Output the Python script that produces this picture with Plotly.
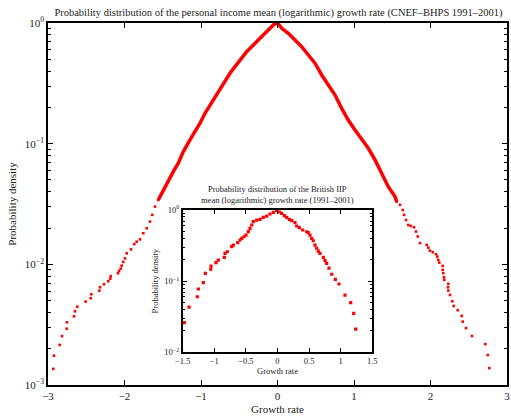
import plotly.graph_objects as go

_RED = "#FF0000"
_FONT = "Liberation Serif, Times New Roman, serif"

core_x = [-1.558, -1.493, -1.427, -1.362, -1.297, -1.231, -1.144, -1.078, -1.013,
          -0.948, -0.882, -0.817, -0.752, -0.686, -0.621, -0.556, -0.490, -0.403,
          -0.316, -0.229, -0.141, -0.055, 0.0, 0.055, 0.141, 0.229, 0.316, 0.403,
          0.490, 0.578, 0.664, 0.752, 0.839, 0.925, 1.013, 1.101, 1.187, 1.275,
          1.362, 1.448, 1.536, 1.558]
core_y = [0.0342, 0.0413, 0.0500, 0.0586, 0.0689, 0.0859, 0.1074, 0.1257, 0.1476,
          0.1786, 0.2094, 0.2451, 0.2786, 0.3266, 0.3831, 0.4346, 0.4935, 0.578,
          0.657, 0.747, 0.847, 0.962, 1.0, 0.904, 0.822, 0.723, 0.636, 0.543,
          0.464, 0.371, 0.306, 0.253, 0.196, 0.157, 0.130, 0.1074, 0.0916, 0.0733,
          0.0569, 0.0440, 0.0364, 0.0331]

# main panel: sparse tails
tail_x = [-2.931, -2.922, -2.847, -2.817, -2.756, -2.752, -2.660, -2.647, -2.617,
          -2.507, -2.442, -2.434, -2.329, -2.320, -2.268, -2.212, -2.186, -2.180,
          -2.085, -2.072, -2.050, -2.037, -2.016, -1.993, -1.971, -1.915, -1.872,
          -1.841, -1.797, -1.754, -1.710, -1.667, -1.637, -1.601, -1.558,
          1.558, 1.601, 1.637, 1.654, 1.680, 1.710, 1.741, 1.784, 1.810, 1.833,
          1.863, 1.950, 1.971, 1.993, 2.029, 2.072, 2.089, 2.102, 2.115, 2.159,
          2.159, 2.167, 2.176, 2.180, 2.233, 2.229, 2.233, 2.255, 2.285, 2.303,
          2.356, 2.408, 2.421, 2.464, 2.542, 2.716, 2.748, 2.769]
tail_y = [0.00136, 0.00175, 0.00215, 0.00254, 0.00293, 0.00331, 0.00371, 0.00408,
          0.00446, 0.00491, 0.00524, 0.00565, 0.00605, 0.00646, 0.00684, 0.00724,
          0.00761, 0.00797, 0.00844, 0.00881, 0.00921, 0.00975, 0.01047, 0.0112,
          0.01235, 0.0133, 0.0147, 0.0154, 0.0161, 0.0181, 0.0199, 0.0226, 0.0257,
          0.0301, 0.0342,
          0.0331, 0.0311, 0.0282, 0.0257, 0.0233, 0.0212, 0.0208, 0.0203, 0.0187,
          0.0170, 0.0150, 0.0145, 0.01375, 0.01298, 0.01259, 0.01213, 0.01159,
          0.01087, 0.01033, 0.00970, 0.00899, 0.00844, 0.00781, 0.00743, 0.00689,
          0.00646, 0.00606, 0.00557, 0.00494, 0.00452, 0.00417, 0.00374, 0.00335,
          0.00296, 0.00255, 0.00218, 0.00177, 0.00138]

# inset: British IIP growth rate
iip_x = [-1.475, -1.400, -1.269, -1.253, -1.174, -1.142, -1.057, -1.052, -0.973,
         -0.937, -0.842, -0.831, -0.794, -0.725, -0.699, -0.630, -0.593, -0.566,
         -0.530, -0.498, -0.462, -0.435, -0.408, -0.383, -0.329, -0.277, -0.225,
         -0.171, -0.119, -0.066, -0.013, 0.028, 0.066, 0.108, 0.146, 0.187, 0.225,
         0.277, 0.304, 0.345, 0.399, 0.462, 0.487, 0.514, 0.541, 0.566, 0.593,
         0.620, 0.646, 0.672, 0.725, 0.752, 0.778, 0.815, 0.858, 0.915, 0.973,
         1.068, 1.158, 1.206, 1.237]
iip_y = [0.0261, 0.0433, 0.0604, 0.0776, 0.0952, 0.129, 0.147, 0.163, 0.182,
         0.198, 0.216, 0.246, 0.259, 0.305, 0.322, 0.347, 0.379, 0.400,
         0.421, 0.445, 0.496, 0.553, 0.616, 0.685, 0.723, 0.740, 0.789,
         0.823, 0.879, 0.928, 0.978, 0.937, 0.899, 0.832, 0.790, 0.740, 0.707,
         0.663, 0.596, 0.564, 0.524, 0.495, 0.480, 0.445, 0.400, 0.370, 0.322,
         0.290, 0.265, 0.246, 0.216, 0.194, 0.178, 0.152, 0.125, 0.106, 0.0912,
         0.0638, 0.0498, 0.0353, 0.0212]

main_xticks = [-3, -2, -1, 0, 1, 2, 3]
main_xtext = ["\u22123", "\u22122", "\u22121", "0", "1", "2", "3"]
main_yticks = [0.001, 0.01, 0.1, 1]
main_ytext = ["10<sup>\u22123</sup>", "10<sup>\u22122</sup>", "10<sup>\u22121</sup>", "10<sup>0</sup>"]
ins_xticks = [-1.5, -1, -0.5, 0, 0.5, 1, 1.5]
ins_xtext = ["\u22121.5", "\u22121", "\u22120.5", "0", "0.5", "1", "1.5"]
ins_yticks = [0.01, 0.1, 1]
ins_ytext = ["10<sup>\u22122</sup>", "10<sup>\u22121</sup>", "10<sup>0</sup>"]

fig = go.Figure()
fig.add_trace(go.Scatter(
    x=core_x, y=core_y, mode="lines",
    line=dict(color=_RED, width=3.5), xaxis="x", yaxis="y",
))
fig.add_trace(go.Scatter(
    x=tail_x, y=tail_y, mode="markers",
    marker=dict(color=_RED, size=2.6, symbol="square", line=dict(width=0)),
    xaxis="x", yaxis="y",
))
fig.add_trace(go.Scatter(
    x=iip_x, y=iip_y, mode="markers",
    marker=dict(color=_RED, size=3.2, symbol="square", line=dict(width=0)),
    xaxis="x2", yaxis="y2",
))

axis_common = dict(
    showgrid=False, zeroline=False, showline=True, linecolor="black",
    mirror="ticks", ticks="inside", tickcolor="black", automargin=False,
)

fig.update_layout(
    width=511, height=417,
    paper_bgcolor="white", plot_bgcolor="white",
    font=dict(family=_FONT, color="#222", size=11),
    margin=dict(l=48, r=4, t=23, b=32, autoexpand=False),
    showlegend=False,
    title=dict(
        text="Probability distribution of the personal income mean (logarithmic) growth rate (CNEF\u2013BHPS 1991\u20132001)",
        font=dict(family=_FONT, size=10.5, color="#222"),
        x=0.545, xanchor="center", y=0.971, yref="container", yanchor="middle",
        automargin=False,
    ),
    xaxis=dict(
        **axis_common, range=[-3, 3], linewidth=1.5, ticklen=5,
        tickmode="array", tickvals=main_xticks, ticktext=main_xtext,
        tickfont=dict(size=11),
        title=dict(text="Growth rate", font=dict(size=11), standoff=4),
        domain=[0, 1],
    ),
    yaxis=dict(
        **axis_common, type="log", range=[-3, 0], linewidth=1.5, ticklen=5,
        tickmode="array", tickvals=main_yticks, ticktext=main_ytext,
        tickfont=dict(size=11),
        minor=dict(ticks="inside", ticklen=3, tickcolor="black", dtick="D1"),
        title=dict(text="Probability density", font=dict(size=11), standoff=6),
        domain=[0, 1],
    ),
    xaxis2=dict(
        **axis_common, range=[-1.5, 1.5], linewidth=1.8, ticklen=4,
        tickmode="array", tickvals=ins_xticks, ticktext=ins_xtext,
        tickfont=dict(size=8.5),
        title=dict(text="Growth rate", font=dict(size=8.5), standoff=2),
        domain=[0.2935, 0.7065], anchor="y2",
    ),
    yaxis2=dict(
        **axis_common, type="log", range=[-2, 0], linewidth=1.8, ticklen=4,
        tickmode="array", tickvals=ins_yticks, ticktext=ins_ytext,
        tickfont=dict(size=8.5),
        minor=dict(ticks="inside", ticklen=2.5, tickcolor="black", dtick="D1"),
        title=dict(text="Probability density", font=dict(size=8.5), standoff=4),
        domain=[0.0903, 0.4834], anchor="x2",
    ),
)

fig.add_annotation(
    x=0.5, y=0.525, xref="paper", yref="paper",
    text="Probability distribution of the British IIP<br>mean (logarithmic) growth rate (1991\u20132001)",
    showarrow=False, xanchor="center", yanchor="middle",
    font=dict(family=_FONT, size=8.5, color="#222"),
)

# the page's default body margin would shift the figure by 8px
fig.write_html(
    "out.html",
    config={"displayModeBar": False},
    post_script="document.body.style.margin='0';",
)
